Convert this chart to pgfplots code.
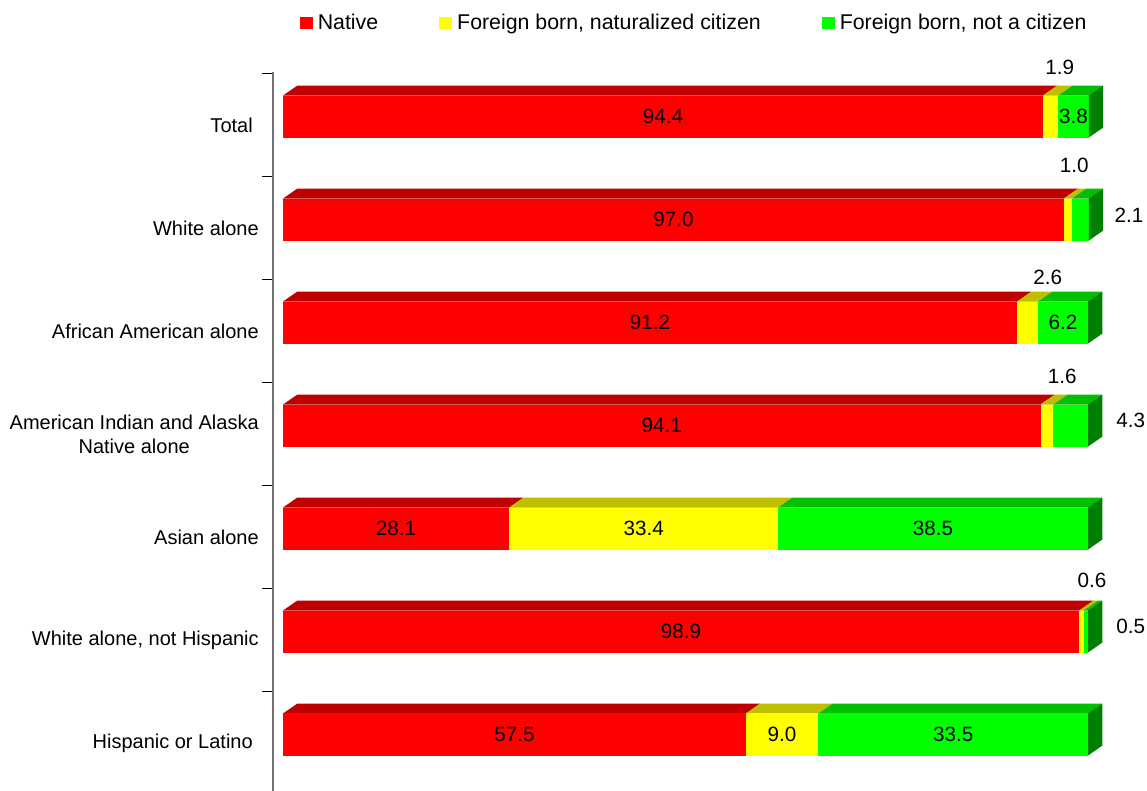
\documentclass[border=0pt]{standalone}
\usepackage{pgfplots}
\pgfplotsset{compat=1.18}
\usepackage{fontspec}
\setmainfont{Liberation Sans}

\definecolor{nat}{HTML}{FF0000}
\definecolor{nzc}{HTML}{FFFF00}
\definecolor{nci}{HTML}{00FF00}

% depth of the 3d bars, in axis units
\def\dx{1.79}
\def\dy{0.097}
\tikzset{vlab/.style={font=\fontsize{15.5}{18}\selectfont,inner sep=0pt,anchor=center}}

\begin{document}
\begin{tikzpicture}
\useasboundingbox (0,0) rectangle (860.25pt,593.25pt);
\begin{axis}[
  at={(204.75pt,0pt)},anchor=south west,
  width=655.5pt,height=539.25pt,scale only axis,
  xmin=-1.242,xmax=107.33,ymin=-0.515,ymax=6.466,y dir=reverse,
  axis x line=none,axis y line*=left,
  axis line style={black!55,line width=1.1pt},
  clip=false,
  ytick={0,...,6},
  yticklabels={Total\kern4.5pt,White alone,African American alone,
    {American Indian and Alaska\\Native alone},Asian alone,
    {White alone, not Hispanic},Hispanic or Latino\kern4.5pt},
  yticklabel style={font=\fontsize{15}{18}\selectfont,align=center,inner sep=0pt},
  yticklabel shift=10.5pt,
  major tick length=0pt,
  minor ytick={-0.5,0.5,1.5,2.5,3.5,4.5,5.5},
  minor tick length=8.25pt,tick align=outside,
  minor tick style={black,line width=0.75pt},
  legend columns=3,
  legend image code/.code={\fill[#1] (0pt,-4.5pt) rectangle (9.75pt,4.5pt); \path (13.5pt,0pt);},
  legend style={draw=none,fill=none,at={(0.0303,1.0682)},anchor=west,
    inner sep=0pt,column sep=0pt,nodes={inner sep=0pt},
    /tikz/every even column/.style={column sep=45.75pt},
    font=\fontsize{16}{19}\selectfont},
  legend cell align=left,
]
\addlegendimage{fill=nat,draw=none}
\addlegendentry{Native}
\addlegendimage{fill=nzc,draw=none}
\addlegendentry{Foreign born, naturalized citizen}
\addlegendimage{fill=nci,draw=none}
\addlegendentry{Foreign born, not a citizen}

\foreach \i/\a/\b/\c in {0/94.4/1.9/3.8,1/97.0/1.0/2.1,2/91.2/2.6/6.2,
    3/94.1/1.6/4.3,4/28.1/33.4/38.5,5/98.9/0.6/0.5,6/57.5/9.0/33.5}{
  \pgfmathsetmacro\sab{\a+\b}
  \pgfmathsetmacro\sabc{\a+\b+\c}
  \pgfmathsetmacro\yt{\i-0.2865}
  \pgfmathsetmacro\yb{\i+0.1215}
  \pgfmathsetmacro\yk{\yt-\dy}
  \pgfmathsetmacro\yl{\yb-\dy}
  \pgfmathsetmacro\ka{\a+\dx}
  \pgfmathsetmacro\ks{\sab+\dx}
  \pgfmathsetmacro\kt{\sabc+\dx}
  \edef\onebar{%
    \noexpand\addplot[forget plot,fill=nat!75!black,draw=none] coordinates {(0,\yt) (\a,\yt) (\ka,\yk) (\dx,\yk)} -- cycle;
    \noexpand\addplot[forget plot,fill=nzc!75!black,draw=none] coordinates {(\a,\yt) (\sab,\yt) (\ks,\yk) (\ka,\yk)} -- cycle;
    \noexpand\addplot[forget plot,fill=nci!75!black,draw=none] coordinates {(\sab,\yt) (\sabc,\yt) (\kt,\yk) (\ks,\yk)} -- cycle;
    \noexpand\addplot[forget plot,fill=nat,draw=none] coordinates {(0,\yt) (\a,\yt) (\a,\yb) (0,\yb)} -- cycle;
    \noexpand\addplot[forget plot,fill=nzc,draw=none] coordinates {(\a,\yt) (\sab,\yt) (\sab,\yb) (\a,\yb)} -- cycle;
    \noexpand\addplot[forget plot,fill=nci,draw=none] coordinates {(\sab,\yt) (\sabc,\yt) (\sabc,\yb) (\sab,\yb)} -- cycle;
    \noexpand\addplot[forget plot,fill=nci!50!black,draw=none] coordinates {(\sabc,\yt) (\kt,\yk) (\kt,\yl) (\sabc,\yb)} -- cycle;
  }
  \onebar
}

% labels inside the bars
\node[vlab] at (axis cs:47.2,-0.0825) {94.4};
\node[vlab] at (axis cs:98.2,-0.0825) {3.8};
\node[vlab] at (axis cs:48.5,0.9175) {97.0};
\node[vlab] at (axis cs:45.6,1.9175) {91.2};
\node[vlab] at (axis cs:96.9,1.9175) {6.2};
\node[vlab] at (axis cs:47.05,2.9175) {94.1};
\node[vlab] at (axis cs:14.05,3.9175) {28.1};
\node[vlab] at (axis cs:44.8,3.9175) {33.4};
\node[vlab] at (axis cs:80.75,3.9175) {38.5};
\node[vlab] at (axis cs:49.45,4.9175) {98.9};
\node[vlab] at (axis cs:28.75,5.9175) {57.5};
\node[vlab] at (axis cs:62.0,5.9175) {9.0};
\node[vlab] at (axis cs:83.25,5.9175) {33.5};
% labels outside the bars
\node[vlab] at (axis cs:96.5,-0.560) {1.9};
\node[vlab] at (axis cs:98.3,0.388) {1.0};
\node[vlab] at (axis cs:105.1,0.874) {2.1};
\node[vlab] at (axis cs:95.0,1.476) {2.6};
\node[vlab] at (axis cs:96.8,2.444) {1.6};
\node[vlab] at (axis cs:105.3,2.871) {4.3};
\node[vlab] at (axis cs:100.5,4.424) {0.6};
\node[vlab] at (axis cs:105.3,4.871) {0.5};
\end{axis}
\end{tikzpicture}
\end{document}
